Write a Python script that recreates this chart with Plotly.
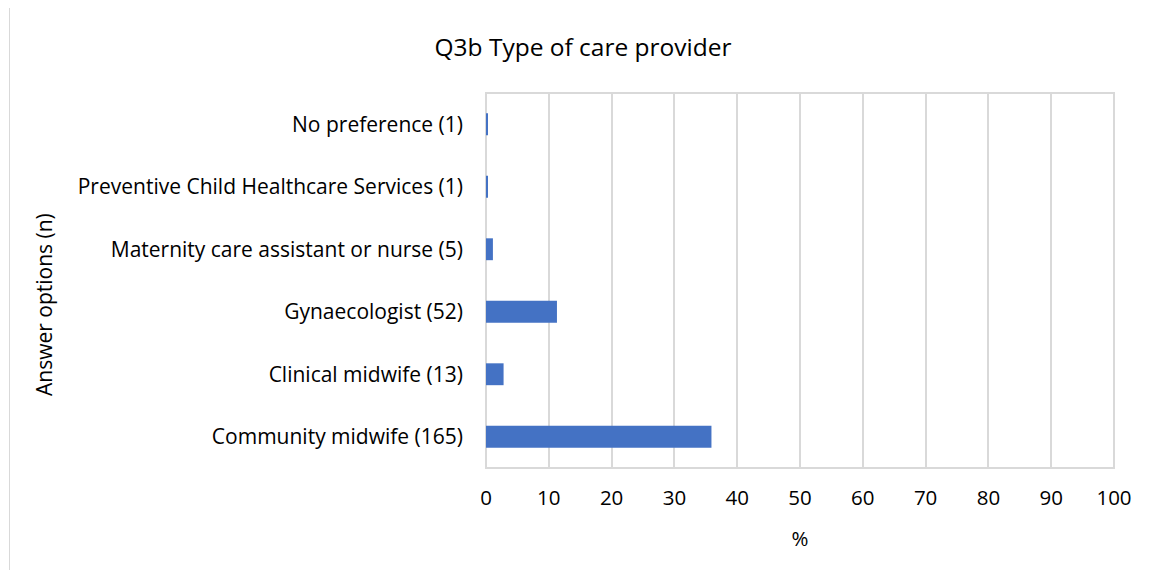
import plotly.graph_objects as go

categories = [
    "Community midwife (165)",
    "Clinical midwife (13)",
    "Gynaecologist (52)",
    "Maternity care assistant or nurse (5)",
    "Preventive Child Healthcare Services (1)",
    "No preference (1)",
]
percent = [35.9, 2.8, 11.3, 1.1, 0.2, 0.2]
x_ticks = list(range(0, 101, 10))

FONT = "Open Sans"

fig = go.Figure()
fig.add_trace(go.Bar(
    y=categories,
    x=percent,
    orientation="h",
    marker=dict(color="#4472C4", line=dict(width=0)),
    width=0.35,
))

# the page body has an 8px margin, so the figure is drawn 8px in from the window edge
OFF = 8
W, H = 1152 - OFF, 570 - OFF
L, R, T, B = 486 - OFF, 38, 93 - OFF, 102
pw, ph = W - L - R, H - T - B

fig.update_layout(
    width=W, height=H,
    margin=dict(l=L, r=R, t=T, b=B),
    paper_bgcolor="white",
    plot_bgcolor="white",
    showlegend=False,
    font=dict(family=FONT, color="#000000", size=20),
    title=dict(text="Q3b Type of care provider", x=(583 - OFF) / W, xanchor="center",
               y=1 - (47 - OFF) / H, yanchor="middle",
               font=dict(family=FONT, size=24.5, color="#000000")),
    xaxis=dict(range=[0, 100], tickmode="array", tickvals=x_ticks,
               showgrid=True, gridcolor="#D9D9D9", gridwidth=2,
               showline=False, zeroline=False, ticks="",
               tickfont=dict(size=20.5), ticklabelstandoff=15,
               title=dict(text="%", font=dict(size=20.5), standoff=22),
               mirror=False),
    yaxis=dict(categoryorder="array", categoryarray=categories,
               showgrid=False, zeroline=False, showline=False, ticks="",
               tickfont=dict(size=21), ticklabelstandoff=22),
)

# plot area frame
fig.add_shape(type="rect", xref="paper", yref="paper", x0=0, x1=1, y0=0, y1=1,
              line=dict(color="#D9D9D9", width=2), fillcolor="rgba(0,0,0,0)", layer="below")

# outer chart border
fig.add_shape(type="rect", xref="paper", yref="paper",
              x0=(9.5 - OFF - L) / pw, x1=(1170 - L) / pw,
              y0=(H - T - 600) / ph, y1=(H - T - (10.5 - OFF)) / ph,
              line=dict(color="#D9D9D9", width=1), fillcolor="rgba(0,0,0,0)")

# y-axis title
fig.add_annotation(text="Answer options (n)", xref="paper", yref="paper",
                   x=(44 - OFF - L) / pw, y=(H - B - (305 - OFF)) / ph, textangle=-90,
                   showarrow=False, xanchor="center", yanchor="middle",
                   font=dict(family=FONT, size=21, color="#000000"))

fig.write_html("out.html")
